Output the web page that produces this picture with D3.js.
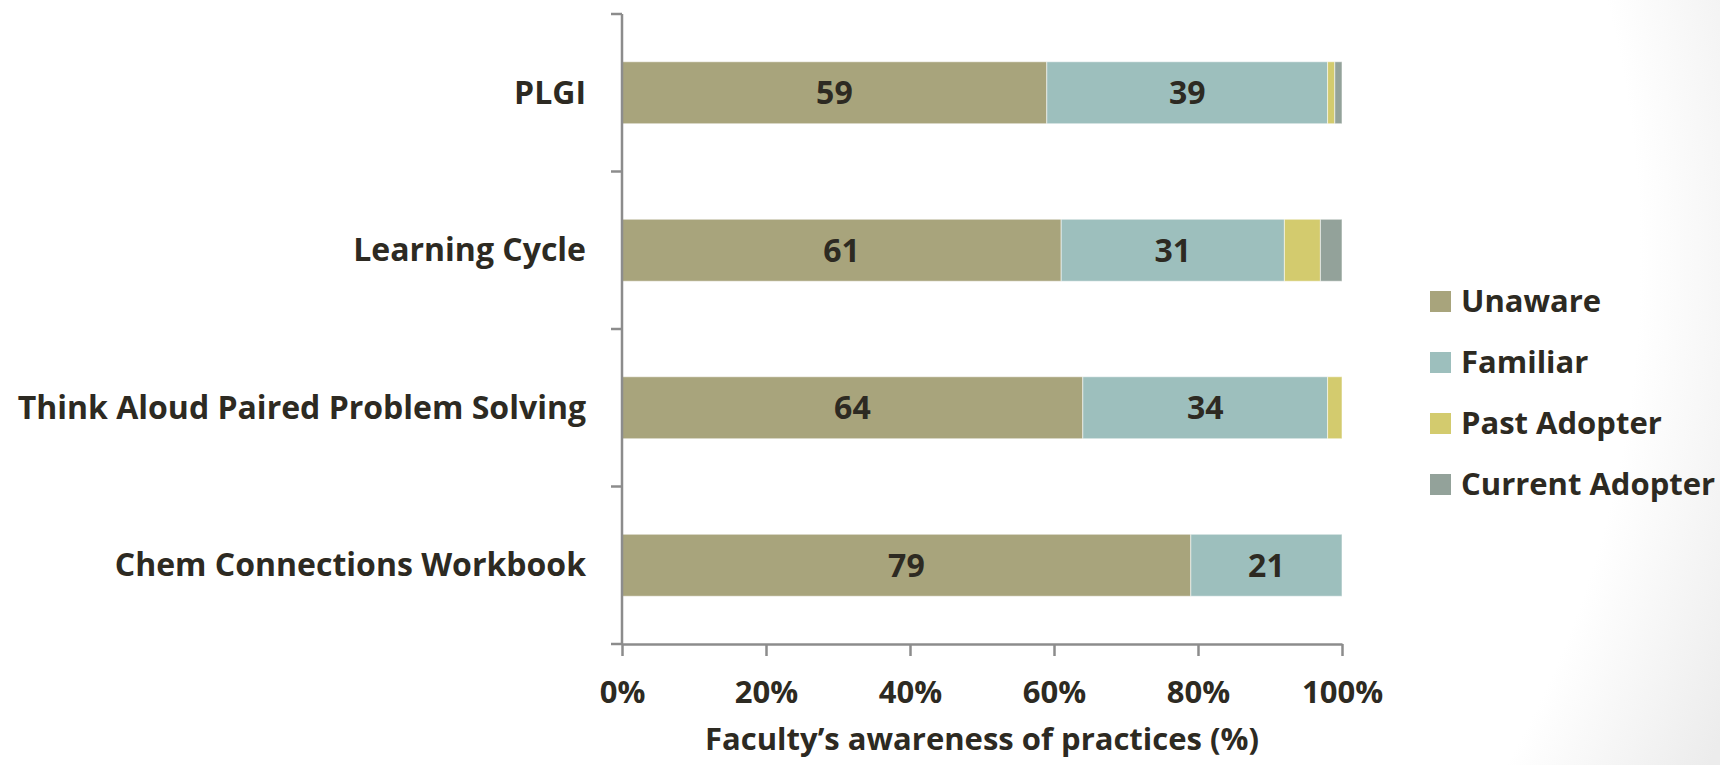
<!DOCTYPE html>
<html>
<head>
<meta charset="utf-8">
<script src="https://cdn.jsdelivr.net/npm/d3@7"></script>
<style>
  body { margin: 0; background: #fff; }
  svg text { font-family: "Open Sans", sans-serif; font-weight: bold; fill: #2d2a22; }
  .axis path, .axis line { stroke: #8c8c8c; stroke-width: 2.5px; }
</style>
</head>
<body>
<div id="chart"></div>
<script>
var svgWidth = 1720;
var svgHeight = 765;

// data (percent of faculty)
var practices = ["PLGI", "Learning Cycle", "Think Aloud Paired Problem Solving", "Chem Connections Workbook"];
var seriesNames = ["Unaware", "Familiar", "Past Adopter", "Current Adopter"];
var unaware = [59, 61, 64, 79];
var familiar = [39, 31, 34, 21];
var pastAdopter = [1, 5, 2, 0];
var currentAdopter = [1, 3, 0, 0];
var xTicks = [0, 20, 40, 60, 80, 100];
var colors = ["#a8a47c", "#9dbfbd", "#d3cb6e", "#93a29a"];

var plot = { left: 622, right: 1342, top: 14, bottom: 644 };

var rows = practices.map(function(p, i) {
  return {
    practice: p,
    "Unaware": unaware[i],
    "Familiar": familiar[i],
    "Past Adopter": pastAdopter[i],
    "Current Adopter": currentAdopter[i]
  };
});

var svg = d3.select("#chart").append("svg")
  .attr("width", svgWidth)
  .attr("height", svgHeight);

// faint slide shading towards the right edge
var defs = svg.append("defs");
var grad = defs.append("radialGradient")
  .attr("id", "bg")
  .attr("gradientUnits", "userSpaceOnUse")
  .attr("cx", 620).attr("cy", 260).attr("r", 1200);
grad.append("stop").attr("offset", "0.85").attr("stop-color", "#ffffff");
grad.append("stop").attr("offset", "1").attr("stop-color", "#ececec");
svg.append("rect").attr("width", svgWidth).attr("height", svgHeight).attr("fill", "url(#bg)");

var xScale = d3.scaleLinear()
  .domain([0, 100])
  .range([plot.left, plot.right]);

var pad = 1 - 62 / 157.5;
var yScale = d3.scaleBand()
  .domain(practices)
  .range([plot.top, plot.bottom])
  .paddingInner(pad)
  .paddingOuter(pad / 2);

var stack = d3.stack().keys(seriesNames);
var layers = stack(rows);

var layerGroups = svg.selectAll(".layer")
  .data(layers)
  .enter()
  .append("g")
  .attr("class", "layer")
  .attr("fill", (d, i) => colors[i]);

layerGroups.selectAll("rect")
  .data(d => d.filter(s => s[1] - s[0] > 0))
  .enter()
  .append("rect")
  .attr("x", d => xScale(d[0]))
  .attr("y", d => yScale(d.data.practice))
  .attr("width", d => xScale(d[1]) - xScale(d[0]))
  .attr("height", yScale.bandwidth())
  .attr("stroke", "#ffffff")
  .attr("stroke-opacity", 0.55)
  .attr("stroke-width", 1);

// value labels for the large segments
layerGroups.selectAll(".val")
  .data(d => d.filter(s => s[1] - s[0] >= 10))
  .enter()
  .append("text")
  .attr("class", "val")
  .attr("x", d => xScale((d[0] + d[1]) / 2))
  .attr("y", d => yScale(d.data.practice) + yScale.bandwidth() / 2)
  .attr("dy", "0.36em")
  .attr("text-anchor", "middle")
  .style("font-size", "32px")
  .text(d => d[1] - d[0]);

// x axis
var xAxis = d3.axisBottom(xScale)
  .tickValues(xTicks)
  .tickFormat(d => d + "%")
  .tickSizeInner(12)
  .tickSizeOuter(0);

var gx = svg.append("g")
  .attr("class", "axis")
  .attr("transform", `translate(0, ${plot.bottom})`)
  .call(xAxis);
gx.selectAll("text")
  .attr("y", 59)
  .attr("dy", 0)
  .style("font-size", "31px")
  .style("fill", "#2d2a22");

// y axis: labels at the bars, tick marks between categories
var yAxis = d3.axisLeft(yScale)
  .tickSize(0)
  .tickPadding(36);

var gy = svg.append("g")
  .attr("class", "axis")
  .attr("transform", `translate(${plot.left}, 0)`)
  .call(yAxis);
gy.select(".domain").remove();
gy.selectAll("text")
  .attr("dy", "0.35em")
  .style("font-size", "32px")
  .style("fill", "#2d2a22");

var bounds = d3.range(practices.length + 1).map(i => plot.top + i * yScale.step());
gy.append("line")
  .attr("x1", 0).attr("x2", 0)
  .attr("y1", plot.top).attr("y2", plot.bottom);
gy.selectAll(".sep")
  .data(bounds)
  .enter()
  .append("line")
  .attr("class", "sep")
  .attr("x1", -11).attr("x2", 0)
  .attr("y1", d => d).attr("y2", d => d);

// axis title
svg.append("text")
  .attr("x", (plot.left + plot.right) / 2)
  .attr("y", 750)
  .attr("text-anchor", "middle")
  .style("font-size", "31px")
  .text("Faculty\u2019s awareness of practices (%)");

// legend
var legend = svg.selectAll(".legend")
  .data(seriesNames)
  .enter()
  .append("g")
  .attr("class", "legend")
  .attr("transform", (d, i) => `translate(1430, ${291 + i * 61})`);

legend.append("rect")
  .attr("width", 21)
  .attr("height", 21)
  .attr("fill", (d, i) => colors[i]);

legend.append("text")
  .attr("x", 31)
  .attr("y", 10.5)
  .attr("dy", "0.35em")
  .style("font-size", "31px")
  .text(d => d);
</script>
</body>
</html>
